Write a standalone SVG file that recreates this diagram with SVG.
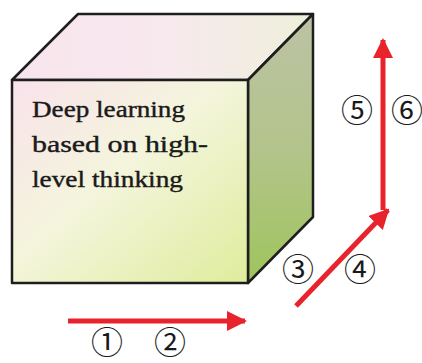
<svg xmlns="http://www.w3.org/2000/svg" width="422" height="363" viewBox="0 0 422 363">
<defs>
<linearGradient id="gFront" x1="0" y1="0" x2="1" y2="1">
<stop offset="0" stop-color="#f9e2ec"/>
<stop offset="0.45" stop-color="#f4f5dc"/>
<stop offset="1" stop-color="#dfec9c"/>
</linearGradient>
<linearGradient id="gTop" x1="0" y1="0" x2="1" y2="0">
<stop offset="0" stop-color="#f8e4ec"/>
<stop offset="0.5" stop-color="#f8e9ef"/>
<stop offset="1" stop-color="#eef0da"/>
</linearGradient>
<linearGradient id="gSide" x1="0" y1="0" x2="0" y2="1">
<stop offset="0" stop-color="#bcc2a4"/>
<stop offset="0.5" stop-color="#b3c48c"/>
<stop offset="1" stop-color="#9fc45c"/>
</linearGradient>
<marker id="ah" viewBox="0 0 10 10" refX="9" refY="5" markerWidth="4" markerHeight="4" markerUnits="strokeWidth" orient="auto">
<path d="M0,0 L10,5 L0,10 Z" fill="#e8232b"/>
</marker>
<style>
.face{stroke:#1e1e1e;stroke-width:2.5;stroke-linejoin:round}
.lbl{font-family:'Liberation Serif','DejaVu Serif','Times New Roman',serif;font-size:24px;fill:#1a1a1a;stroke:#1a1a1a;stroke-width:0.4}
.num{font-size:32px;fill:#1a1a1a;text-anchor:middle}
.arr{stroke:#e8232b;stroke-width:5;fill:none;marker-end:url(#ah)}
</style>
</defs>
<g id="cube">
<polygon class="face" points="12,80 78,14 313,14 248,80" fill="url(#gTop)"/>
<polygon class="face" points="248,80 313,14 313,217 248,283" fill="url(#gSide)"/>
<rect class="face" x="12" y="80" width="236" height="203" fill="url(#gFront)"/>
<text class="lbl" x="32" y="117" textLength="153" lengthAdjust="spacingAndGlyphs">Deep learning</text>
<text class="lbl" x="32" y="152" textLength="176" lengthAdjust="spacingAndGlyphs">based on high-</text>
<text class="lbl" x="32" y="187" textLength="151" lengthAdjust="spacingAndGlyphs">level thinking</text>
</g>
<g id="connectors">
<line class="arr" x1="68" y1="321" x2="245" y2="321"/>
<line class="arr" x1="296" y1="306" x2="388" y2="210"/>
<path d="M383,210 L383,40" class="arr"/>
</g>
<g id="labels" font-family="'Noto Sans CJK JP','DejaVu Sans',sans-serif">
<text class="num" x="107" y="354">①</text>
<text class="num" x="170" y="354">②</text>
<text class="num" x="298" y="281">③</text>
<text class="num" x="360" y="281">④</text>
<text class="num" x="357" y="122">⑤</text>
<text class="num" x="407" y="122">⑥</text>
</g>
</svg>
